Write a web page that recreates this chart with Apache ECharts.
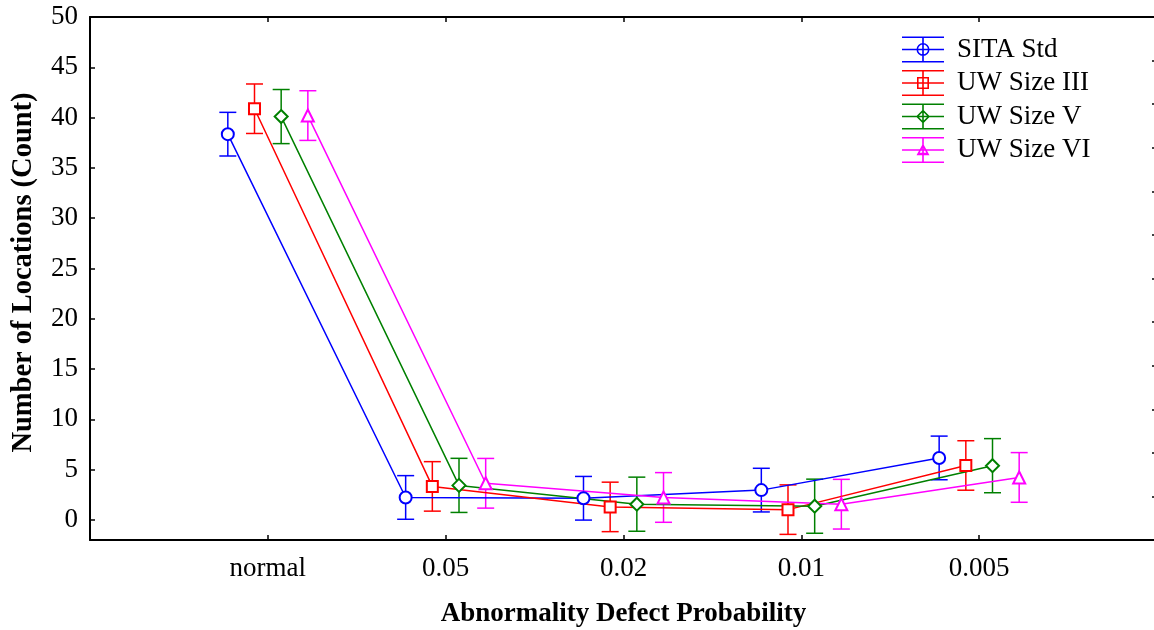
<!DOCTYPE html>
<html>
<head>
<meta charset="utf-8">
<title>Number of Locations by Abnormality Defect Probability</title>
<script src="https://cdn.jsdelivr.net/npm/echarts@6/dist/echarts.min.js"></script>
<style>
  html, body { margin: 0; padding: 0; background: #fff; }
  #chart { width: 1154px; height: 630px; }
</style>
</head>
<body>
<div id="chart"></div>
<script>
// Category labels along the x axis
const categories = ['normal', '0.05', '0.02', '0.01', '0.005'];
const seriesNames = ['SITA Std', 'UW Size III', 'UW Size V', 'UW Size VI'];

// Mean counts per category
const sitaMean = [38.35, 2.23, 2.15, 2.96, 6.16];
const uw3Mean  = [40.88, 3.33, 1.29, 1.02, 5.41];
const uw5Mean  = [40.10, 3.43, 1.56, 1.36, 5.39];
const uw6Mean  = [40.20, 3.64, 2.23, 1.56, 4.22];

// Error bar half-widths per category
const sitaErr = [2.17, 2.17, 2.17, 2.17, 2.17];
const uw3Err  = [2.46, 2.46, 2.46, 2.46, 2.46];
const uw5Err  = [2.69, 2.69, 2.69, 2.69, 2.69];
const uw6Err  = [2.47, 2.47, 2.47, 2.47, 2.47];

// Axis tick values
const yTicks = [0, 5, 10, 15, 20, 25, 30, 35, 40, 45, 50];
const xTicks = [1, 2, 3, 4, 5];

const means = [sitaMean, uw3Mean, uw5Mean, uw6Mean];
const errs = [sitaErr, uw3Err, uw5Err, uw6Err];

// Presentation settings
const colors = ['#0000ff', '#ff0000', '#008000', '#ff00ff'];
const symbols = ['emptyCircle', 'emptyRect', 'emptyDiamond', 'emptyTriangle'];
const symbolSizes = [12, 11, 13, 12];
const dodge = [-0.225, -0.075, 0.075, 0.225];
const FONT = "'Liberation Serif', 'Times New Roman', serif";

// Legend icons: an error bar (three horizontal strokes + vertical) with the marker outline
function rect(x, y, w, h) { return `M${x} ${y}h${w}v${h}h${-w}Z`; }
function barIcon(markerPath) {
  const W = 42, H = 26, t = 1.6;
  return 'path://' +
    rect(0, 0, W, t) +
    rect(0, H / 2 - t / 2, W, t) +
    rect(0, H - t, W, t) +
    rect(W / 2 - t / 2, 0, t, H) +
    markerPath;
}
const cx = 21, cy = 13;
function ring(r, t) {
  const ri = r - t;
  return `M${cx - r} ${cy}a${r} ${r} 0 1 1 ${2 * r} 0a${r} ${r} 0 1 1 ${-2 * r} 0Z` +
         `M${cx - ri} ${cy}a${ri} ${ri} 0 1 0 ${2 * ri} 0a${ri} ${ri} 0 1 0 ${-2 * ri} 0Z`;
}
function square(r, t) {
  const ri = r - t;
  return `M${cx - r} ${cy - r}h${2 * r}v${2 * r}h${-2 * r}Z` +
         `M${cx - ri} ${cy - ri}v${2 * ri}h${2 * ri}v${-2 * ri}Z`;
}
function diamond(r, t) {
  const ri = r - t * 1.4;
  return `M${cx} ${cy - r}L${cx + r} ${cy}L${cx} ${cy + r}L${cx - r} ${cy}Z` +
         `M${cx} ${cy - ri}L${cx - ri} ${cy}L${cx} ${cy + ri}L${cx + ri} ${cy}Z`;
}
function triangle(r, t) {
  const ri = r - t * 2;
  return `M${cx} ${cy - r}L${cx + r} ${cy + r * 0.8}L${cx - r} ${cy + r * 0.8}Z` +
         `M${cx} ${cy - ri}L${cx - ri} ${cy + ri * 0.8}L${cx + ri} ${cy + ri * 0.8}Z`;
}
const legendIcons = [
  barIcon(ring(6.5, 1.6)),
  barIcon(square(6, 1.6)),
  barIcon(diamond(7, 1.6)),
  barIcon(triangle(6.5, 1.6))
];

const lineSeries = seriesNames.map((name, i) => ({
  name: name,
  type: 'line',
  z: 3,
  data: categories.map((c, k) => [k + 1 + dodge[i], means[i][k]]),
  symbol: symbols[i],
  symbolSize: symbolSizes[i],
  showAllSymbol: true,
  color: colors[i],
  lineStyle: { color: colors[i], width: 1.5 },
  itemStyle: { color: colors[i], borderColor: colors[i], borderWidth: 1.5 },
  emphasis: { disabled: true }
}));

const errorSeries = seriesNames.map((name, i) => ({
  name: name,
  type: 'custom',
  z: 2,
  color: colors[i],
  data: categories.map((c, k) => [k + 1 + dodge[i], means[i][k] - errs[i][k], means[i][k] + errs[i][k]]),
  encode: { x: 0, y: [1, 2] },
  renderItem: function (params, api) {
    const x = api.value(0);
    const top = api.coord([x, api.value(2)]);
    const bot = api.coord([x, api.value(1)]);
    const hw = 8.5;
    const style = { stroke: colors[i], lineWidth: 1.5, fill: null };
    return {
      type: 'group',
      children: [
        { type: 'line', shape: { x1: top[0], y1: top[1], x2: bot[0], y2: bot[1] }, style: style },
        { type: 'line', shape: { x1: top[0] - hw, y1: top[1], x2: top[0] + hw, y2: top[1] }, style: style },
        { type: 'line', shape: { x1: bot[0] - hw, y1: bot[1], x2: bot[0] + hw, y2: bot[1] }, style: style }
      ]
    };
  }
}));

const axisLineStyle = { color: '#000', width: 2 };
const tickStyle = { color: '#000', width: 1.5 };

const option = {
  animation: false,
  backgroundColor: '#fff',
  grid: { left: 90, top: 17, width: 1067, height: 523, containLabel: false, outerBoundsMode: 'none' },
  legend: {
    orient: 'vertical',
    left: 902,
    top: 36,
    padding: 0,
    itemWidth: 42,
    itemHeight: 26,
    itemGap: 6.5,
    itemStyle: { borderWidth: 0 },
    textStyle: { fontFamily: FONT, fontSize: 27, color: '#000', padding: [0, 0, 0, 8] },
    data: seriesNames.map((n, i) => ({ name: n, icon: legendIcons[i] }))
  },
  xAxis: [
    {
      type: 'value', min: 0, max: 6, position: 'bottom',
      axisLine: { show: true, onZero: false, lineStyle: axisLineStyle },
      axisTick: { show: true, inside: true, length: 5, customValues: xTicks, lineStyle: tickStyle },
      axisLabel: {
        customValues: xTicks,
        formatter: v => categories[Math.round(v) - 1] || '',
        fontFamily: FONT, fontSize: 27, color: '#000', margin: 15
      },
      splitLine: { show: false },
      name: 'Abnormality Defect Probability',
      nameLocation: 'middle',
      nameGap: 61,
      nameTextStyle: { fontFamily: FONT, fontSize: 27, fontWeight: 'bold', color: '#000' }
    },
    {
      type: 'value', min: 0, max: 6, position: 'top',
      axisLine: { show: true, onZero: false, lineStyle: axisLineStyle },
      axisTick: { show: true, inside: true, length: 5, customValues: xTicks, lineStyle: tickStyle },
      axisLabel: { show: false },
      splitLine: { show: false }
    }
  ],
  yAxis: [
    {
      type: 'value', min: -2, max: 50, position: 'left',
      axisLine: { show: true, onZero: false, lineStyle: axisLineStyle },
      axisTick: { show: true, inside: true, length: 5, customValues: yTicks, lineStyle: tickStyle },
      axisLabel: { customValues: yTicks, fontFamily: FONT, fontSize: 27, color: '#000', margin: 12, padding: [6, 0, 0, 0] },
      splitLine: { show: false },
      name: 'Number of Locations (Count)',
      nameLocation: 'middle',
      nameGap: 52,
      nameTextStyle: { fontFamily: FONT, fontSize: 28.5, fontWeight: 'bold', color: '#000', padding: [0, 0, 0, 12] }
    },
    {
      type: 'value', min: 0, max: 12, interval: 1, position: 'right',
      axisLine: { show: true, onZero: false, lineStyle: axisLineStyle },
      axisTick: { show: true, inside: true, length: 5, lineStyle: tickStyle },
      axisLabel: { show: false },
      splitLine: { show: false }
    }
  ],
  series: lineSeries.concat(errorSeries)
};

const chart = echarts.init(document.getElementById('chart'), null, { renderer: 'canvas' });
chart.setOption(option);
</script>
</body>
</html>
